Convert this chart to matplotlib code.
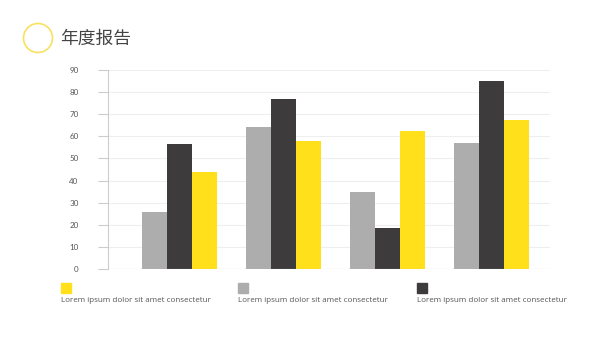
import matplotlib
matplotlib.use("Agg")
import matplotlib.pyplot as plt
import matplotlib.patches as mPatches
import numpy as np

# series values, one per group
groups = ["Q1", "Q2", "Q3", "Q4"]
gray_vals = [26, 64, 35, 57]
dark_vals = [56.5, 77, 18.5, 85]
yellow_vals = [44, 58, 62.5, 67.5]
yticks = [0, 10, 20, 30, 40, 50, 60, 70, 80, 90]
legend_labels = ["Lorem ipsum dolor sit amet consectetur"] * 3

GRAY = "#adadad"
DARK = "#3d3b3c"
YELLOW = "#ffe01b"

f = plt.figure(figsize=(6, 3.38), dpi=100)
ax1 = f.add_axes([0.18, 0.2041, 0.7367, 0.5888])

x = np.arange(len(groups))
w = 0.24
ax1.bar(x - w, gray_vals, w, color=GRAY, zorder=3)
ax1.bar(x, dark_vals, w, color=DARK, zorder=3)
ax1.bar(x + w, yellow_vals, w, color=YELLOW, zorder=3)

ax1.set_xlim(-0.6875, 3.5625)
ax1.set_ylim(0, 90)
ax1.set_yticks(yticks)
ax1.set_xticks([])
ax1.grid(axis="y", color="#eeeeee", linewidth=0.8, zorder=0)
for s in ["top", "right", "bottom"]:
    ax1.spines[s].set_visible(False)
ax1.spines["left"].set_color("#cccccc")
ax1.spines["left"].set_linewidth(0.8)
ax1.axhline(0, color="#cccccc", linewidth=0.8, zorder=4)
ax1.tick_params(axis="y", length=7.2, width=0.8, color="#cccccc", pad=14,
                labelsize=5.8, labelcolor="#555555")
for lab in ax1.get_yticklabels():
    lab.set_fontfamily("Lato")

# header: ring + title
ring = mPatches.Circle((38, 338 - 38), 14.5, transform=None, fill=False,
                       edgecolor="#f8e160", linewidth=1.2)
f.patches.append(ring)
f.text(60 / 600, 1 - 39 / 338, "年度报告", fontsize=12.8, color="#444444",
       va="center", ha="left", family=["Noto Sans CJK SC", "DejaVu Sans"])

# legend blocks under the chart
for xpos, col, lab in zip([61, 238, 417], [YELLOW, GRAY, DARK], legend_labels):
    f.patches.append(mPatches.Rectangle((xpos, 338 - 293), 10, 10, transform=None,
                                        color=col))
    f.text(xpos / 600, 1 - 301 / 338, lab, fontsize=5.8, color="#555555",
           va="center", ha="left", family="Open Sans")

f.savefig("out.png", dpi=100)
